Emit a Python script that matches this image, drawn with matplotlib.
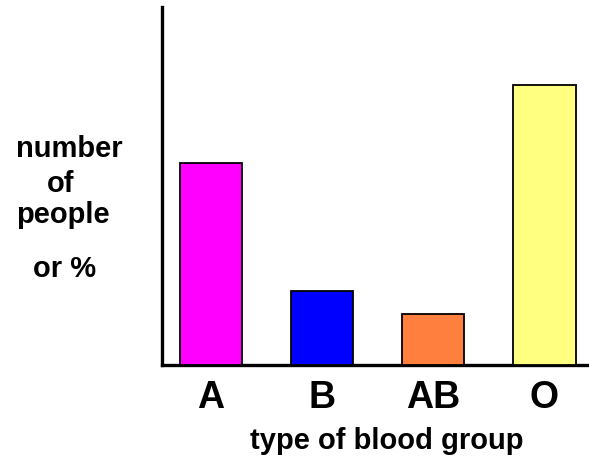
import matplotlib
matplotlib.use("Agg")
import matplotlib.pyplot as plt

categories = ["A", "B", "AB", "O"]
values = [202, 74, 51, 280]
colors = ["#FF00FF", "#0000FF", "#FF7F3F", "#FFFF80"]

plt.rcParams['font.family'] = ['Liberation Sans', 'DejaVu Sans']

W, H = 589, 457
fig = plt.figure(figsize=(W / 100, H / 100), dpi=100)
ax = fig.add_axes([162 / W, (H - 365) / H, (W - 162) / W, (365 - 7) / H])

x = list(range(len(categories)))
ax.bar(x, values, width=0.56, color=colors, edgecolor="black", linewidth=1.3, zorder=3)
ax.set_xlim(-0.44, 3.40)
ax.set_ylim(0, 358)

for s in ["top", "right"]:
    ax.spines[s].set_visible(False)
for s in ["left", "bottom"]:
    ax.spines[s].set_linewidth(2.4)
    ax.spines[s].set_color("black")
ax.set_yticks([])
ax.set_xticks(x)
ax.set_xticklabels(categories, fontsize=27, fontweight="bold")
ax.tick_params(axis="x", length=0, pad=11)

fig.text(387 / W, 1 - 441 / H, "type of blood group", ha="center", va="center",
         fontsize=21, fontweight="bold")

fs = 21
fig.text(16 / W, 1 - 157 / H, "number", ha="left", va="baseline", fontsize=fs, fontweight="bold")
fig.text(47 / W, 1 - 192 / H, "of", ha="left", va="baseline", fontsize=fs, fontweight="bold")
fig.text(16 / W, 1 - 223 / H, "people", ha="left", va="baseline", fontsize=fs, fontweight="bold")
fig.text(33 / W, 1 - 277 / H, "or %", ha="left", va="baseline", fontsize=fs, fontweight="bold")

fig.savefig("out.png", dpi=100)
